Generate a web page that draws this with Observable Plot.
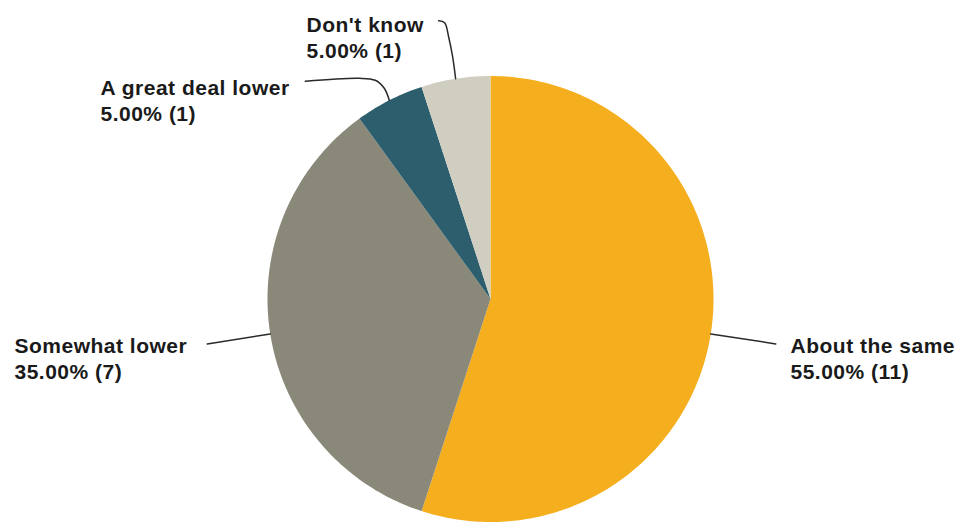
<!DOCTYPE html>
<html>
<head>
<meta charset="utf-8">
<script src="https://cdn.jsdelivr.net/npm/d3@7"></script>
<script src="https://cdn.jsdelivr.net/npm/@observablehq/plot@0.6"></script>
<style>
  html, body { margin: 0; padding: 0; background: #fff; }
  #chart svg { display: block; }
  #chart text { letter-spacing: 0.5px; }
</style>
</head>
<body>
<div id="chart"></div>
<script>
// ---- data ----
const categories = ["About the same", "Somewhat lower", "A great deal lower", "Don't know"];
const percents = [55, 35, 5, 5];
const counts = [11, 7, 1, 1];
const colors = ["#F5AE1D", "#8A8878", "#2C5E6D", "#D0CEC1"];

// ---- layout (pixels) ----
const W = 957, H = 522;
const cx = 490, cy = 298.5, R = 223;
const labelPos = {
  "About the same":     {x: 790, y: 335, line: [[0, 0], [65, 10]]},
  "Somewhat lower":     {x: 14,  y: 335, line: [[0, 0], [-63, 10]]},
  "A great deal lower": {x: 100, y: 77,  line: [[0, 0], [-5, -12], [-14, -20], [-30, -22], [-84, -19]]},
  "Don't know":         {x: 306, y: 14,  line: [[0, 0], [-3, -22], [-7, -42], [-11, -56], [-17, -58]]}
};

// ---- build slices ----
const total = d3.sum(percents);
let acc = 0;
const slices = categories.map((c, i) => {
  const a0 = acc / total * 2 * Math.PI;
  acc += percents[i];
  const a1 = acc / total * 2 * Math.PI;
  return {cat: c, a0, a1, mid: (a0 + a1) / 2, pct: percents[i], n: counts[i]};
});
const pt = (a, r) => [cx + r * Math.sin(a), cy - r * Math.cos(a)];

const slicePts = [];
for (const s of slices) {
  const steps = Math.max(8, Math.ceil((s.a1 - s.a0) / (Math.PI / 180)));
  slicePts.push({cat: s.cat, px: cx, py: cy});
  for (let k = 0; k <= steps; k++) {
    const [px, py] = pt(s.a0 + (s.a1 - s.a0) * k / steps, R);
    slicePts.push({cat: s.cat, px, py});
  }
  slicePts.push({cat: s.cat, px: cx, py: cy});
}

const leaderPts = [];
for (const s of slices) {
  const [ex, ey] = pt(s.mid, R);
  for (const [dx, dy] of labelPos[s.cat].line) leaderPts.push({cat: s.cat, px: ex + dx, py: ey + dy});
}

const labels = slices.map(s => ({
  cat: s.cat,
  px: labelPos[s.cat].x,
  py: labelPos[s.cat].y,
  text: `${s.cat}\n${s.pct.toFixed(2)}% (${s.n})`
}));

const chart = Plot.plot({
  width: W,
  height: H,
  margin: 0,
  x: {domain: [0, W], range: [0, W], axis: null},
  y: {domain: [0, H], range: [0, H], axis: null},
  color: {domain: categories, range: colors},
  style: {fontFamily: "'Liberation Sans', Arial, sans-serif", background: "#fff"},
  marks: [
    Plot.line(slicePts, {x: "px", y: "py", z: "cat", fill: "cat", stroke: null, curve: "linear"}),
    Plot.line(leaderPts, {x: "px", y: "py", z: "cat", stroke: "#2a2a2a", strokeWidth: 1.5, curve: "catmull-rom"}),
    Plot.text(labels, {
      x: "px", y: "py", text: "text",
      textAnchor: "start", lineAnchor: "top",
      fontSize: 21, fontWeight: "bold", fill: "#1a1a1a",
      lineHeight: 1.2
    })
  ]
});
document.getElementById("chart").appendChild(chart);
</script>
</body>
</html>
